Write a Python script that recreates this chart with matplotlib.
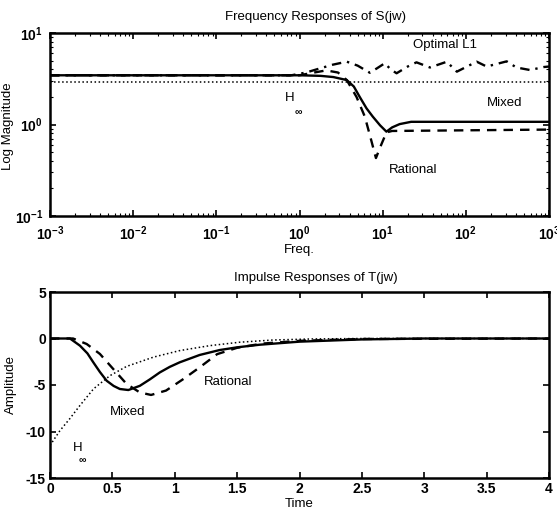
import numpy as np
import matplotlib
matplotlib.use("Agg")
import matplotlib.pyplot as plt
from matplotlib.ticker import LogLocator, FixedLocator, FormatStrFormatter, NullFormatter

plt.rcParams['font.family'] = ['Liberation Sans', 'DejaVu Sans']
plt.rcParams['mathtext.fontset'] = 'custom'
plt.rcParams['mathtext.rm'] = 'Liberation Sans'
plt.rcParams['mathtext.bf'] = 'Liberation Sans:bold'

# --- Frequency responses of S(jw) ---
f_mixed = [1e-3, 1.0, 1.8, 2.55, 3.7, 4.5, 5.3, 6.4, 7.6, 9.3, 11.1, 13, 16, 22, 1000]
s_mixed = [3.45, 3.45, 3.4, 3.3, 3.06, 2.6, 2.0, 1.5, 1.22, 0.98, 0.835, 0.93, 1.01, 1.07, 1.07]

f_rational = [1e-3, 1.0, 1.5, 2.1, 2.9, 3.7, 4.85, 6.1, 7.2, 8.3, 9.6, 11.1, 13, 1000]
s_rational = [3.45, 3.45, 3.7, 3.9, 3.7, 3.06, 2.0, 1.22, 0.7, 0.43, 0.6, 0.82, 0.85, 0.88]

f_l1 = [1e-3, 0.8, 1.2, 1.6, 2.5, 3.7, 5.0, 7.0, 8.5, 10.6, 12.5, 14.7, 20, 25.5,
        37, 59, 78, 135, 178, 310, 405, 590, 870, 1000]
s_l1 = [3.45, 3.45, 3.7, 4.0, 4.5, 4.86, 4.4, 3.68, 4.1, 4.67, 4.0, 3.63, 4.3, 4.78,
        4.2, 4.85, 3.78, 4.86, 4.3, 4.9, 4.2, 3.94, 4.25, 4.3]

f_hinf = [1e-3, 1000]
s_hinf = [2.95, 2.95]

# --- Impulse responses of T(jw) ---
t_mixed = [0, 0.16, 0.24, 0.3, 0.347, 0.4, 0.454, 0.51, 0.56, 0.628, 0.72, 0.8, 0.88, 0.96,
           1.04, 1.2, 1.36, 1.5, 1.68, 2.0, 2.5, 3.0, 4.0]
h_mixed = [0, 0, -0.77, -1.6, -2.56, -3.6, -4.54, -5.1, -5.43, -5.54, -5.09, -4.4, -3.65, -3.05,
           -2.56, -1.77, -1.24, -0.95, -0.67, -0.34, -0.1, 0, 0]

t_rational = [0, 0.185, 0.294, 0.4, 0.507, 0.614, 0.72, 0.81, 0.93, 1.07, 1.2, 1.34, 1.5, 1.7, 2.0, 2.5, 4.0]
h_rational = [0, 0, -0.59, -1.66, -3.28, -4.89, -5.8, -6.07, -5.6, -4.35, -3.1, -1.68, -1.0, -0.55, -0.25, -0.05, 0]

t_hinf = [0, 0.08, 0.16, 0.24, 0.35, 0.48, 0.614, 0.83, 1.04, 1.28, 1.52, 1.79, 2.1, 2.5, 4.0]
h_hinf = [-11.5, -9.9, -8.6, -7.2, -5.4, -4.0, -3.0, -2.0, -1.3, -0.77, -0.4, -0.16, -0.05, 0, 0]

W, H = 557, 513
fig = plt.figure(figsize=(W / 100, H / 100), dpi=100)

def box(l, t, r, b):
    return [l / W, 1 - b / H, (r - l) / W, (b - t) / H]

fs = 9.5
lw = 1.7

# top plot
ax1 = fig.add_axes(box(50, 33, 549, 216))
ax1.set_xscale('log')
ax1.set_yscale('log')
ax1.plot(f_mixed, s_mixed, 'k-', lw=lw)
ax1.plot(f_rational, s_rational, 'k--', lw=lw, dashes=(4, 3))
ax1.plot(f_l1, s_l1, 'k-.', lw=lw, dashes=(4, 2.5, 1, 2.5))
ax1.plot(f_hinf, s_hinf, 'k:', lw=1.1)
ax1.set_xlim(1e-3, 1e3)
ax1.set_ylim(1e-1, 1e1)
ax1.xaxis.set_major_locator(FixedLocator([1e-3, 1e-2, 1e-1, 1, 1e1, 1e2, 1e3]))
ax1.xaxis.set_minor_locator(LogLocator(base=10, subs=np.arange(2, 10), numticks=20))
ax1.yaxis.set_major_locator(FixedLocator([1e-1, 1, 1e1]))
ax1.yaxis.set_minor_locator(LogLocator(base=10, subs=np.arange(2, 10), numticks=20))
ax1.xaxis.set_minor_formatter(NullFormatter())
ax1.yaxis.set_minor_formatter(NullFormatter())
ax1.set_xticklabels([r'$\mathbf{10^{-3}}$', r'$\mathbf{10^{-2}}$', r'$\mathbf{10^{-1}}$',
                     r'$\mathbf{10^{0}}$', r'$\mathbf{10^{1}}$', r'$\mathbf{10^{2}}$',
                     r'$\mathbf{10^{3}}$'])
ax1.set_yticklabels([r'$\mathbf{10^{-1}}$', r'$\mathbf{10^{0}}$', r'$\mathbf{10^{1}}$'])
ax1.text(0.533, 1.087, 'Frequency Responses of S(jw)', transform=ax1.transAxes,
         ha='center', va='center', fontsize=fs)
ax1.set_xlabel('Freq.', fontsize=fs, labelpad=1)
ax1.set_ylabel('Log Magnitude', fontsize=fs)
ax1.yaxis.set_label_coords(-0.072, 0.49)
ax1.text(56, 7.4, 'Optimal L1', ha='center', va='center', fontsize=fs)
ax1.text(294, 1.72, 'Mixed', ha='center', va='center', fontsize=fs)
ax1.text(0.77, 1.95, 'H', ha='center', va='center', fontsize=fs)
ax1.text(0.96, 1.37, '∞', ha='center', va='center', fontsize=fs - 2, fontweight='bold')
ax1.text(23, 0.32, 'Rational', ha='center', va='center', fontsize=fs)

# bottom plot
ax2 = fig.add_axes(box(50, 292, 549, 478))
ax2.plot(t_mixed, h_mixed, 'k-', lw=lw)
ax2.plot(t_rational, h_rational, 'k--', lw=lw, dashes=(4, 3))
ax2.plot(t_hinf, h_hinf, 'k:', lw=1.1)
ax2.set_xlim(0, 4)
ax2.set_ylim(-15, 5)
ax2.set_xticks(np.arange(0, 4.01, 0.5))
ax2.set_yticks([-15, -10, -5, 0, 5])
ax2.xaxis.set_major_formatter(FormatStrFormatter('%g'))
ax2.yaxis.set_major_formatter(FormatStrFormatter('%g'))
ax2.text(0.533, 1.075, 'Impulse Responses of T(jw)', transform=ax2.transAxes,
         ha='center', va='center', fontsize=fs)
ax2.set_xlabel('Time', fontsize=fs, labelpad=1)
ax2.set_ylabel('Amplitude', fontsize=fs)
ax2.yaxis.set_label_coords(-0.066, 0.5)
ax2.text(1.43, -4.68, 'Rational', ha='center', va='center', fontsize=fs)
ax2.text(0.62, -7.9, 'Mixed', ha='center', va='center', fontsize=fs)
ax2.text(0.22, -11.8, 'H', ha='center', va='center', fontsize=fs)
ax2.text(0.26, -13.1, '∞', ha='center', va='center', fontsize=fs - 2, fontweight='bold')

for ax in (ax1, ax2):
    for sp in ax.spines.values():
        sp.set_linewidth(1.8)
    ax.tick_params(which='both', direction='in', top=True, right=True,
                   labelsize=fs + 0.5, pad=3)
    ax.tick_params(which='major', length=4, width=1.2)
    ax.tick_params(which='minor', length=2, width=0.8)
    for lab in ax.get_xticklabels() + ax.get_yticklabels():
        lab.set_fontweight('bold')
ax1.tick_params(axis='x', which='major', pad=6)
ax1.tick_params(axis='y', which='major', pad=5)

fig.savefig('out.png', dpi=100)
